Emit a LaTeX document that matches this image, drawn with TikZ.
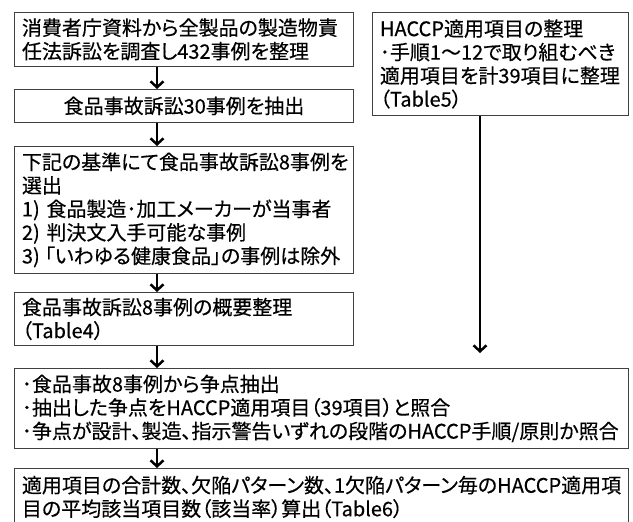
\documentclass[tikz,border=0pt]{standalone}
\usepackage{fontspec}
\setmainfont{Noto Sans CJK JP}[RawFeature=+palt, FakeBold=0.4]
\usetikzlibrary{arrows.meta,calc}
\begin{document}
\begin{tikzpicture}[x=1pt,y=-1pt,
  box/.style={draw=black!75, line width=0.9pt, anchor=north west, inner xsep=7.5pt, inner ysep=0pt,
    align=left, font=\fontsize{20}{23.5}\selectfont, text=black},
  arr/.style={line width=2.5pt, -{Straight Barb[length=6pt,width=13pt,line width=2.5pt]}}]
\useasboundingbox (0,0) rectangle (633,522);
\clip (0,0) rectangle (633,522);
\node[box, text width=324pt, minimum height=54pt] (b1) at (14,12)
  {消費者庁資料から全製品の製造物責\\任法訴訟を調査し432事例を整理};
\node[box, text width=324pt, minimum height=33pt, align=center] (b2) at (14,89)
  {食品事故訴訟30事例を抽出};
\node[box, text width=324pt, minimum height=127pt] (b3) at (14,146)
  {下記の基準にて食品事故訴訟8事例を\\選出\\1)\ 食品製造･加工メーカーが当事者\\2)\ 判決文入手可能な事例\\3)\kern5pt「いわゆる健康食品」の事例は除外};
\node[box, text width=324pt, minimum height=53pt] (b4) at (14,292)
  {食品事故訴訟8事例の概要整理\\（Table4）};
\node[box, text width=241pt, minimum height=103pt] (r) at (372,12)
  {HACCP適用項目の整理\\･手順1〜12で取り組むべき\\適用項目を計39項目に整理\\（Table5）};
\node[box, text width=599pt, minimum height=80pt] (b5) at (14,368)
  {･食品事故8事例から争点抽出\\･抽出した争点をHACCP適用項目（39項目）と照合\\･争点が設計、製造、指示警告いずれの段階のHACCP手順/原則か照合};
\node[box, text width=599pt, minimum height=57pt] (b6) at (14,468)
  {適用項目の合計数、欠陥パターン数、1欠陥パターン毎のHACCP適用項\\目の平均該当項目数（該当率）算出（Table6）};
\coordinate (ax) at (157,0);
\coordinate (rx) at (480,0);
\coordinate (rend) at (480,353);
\draw[arr] (b1.south -| ax) -- (b2.north -| ax);
\draw[arr] (b2.south -| ax) -- (b3.north -| ax);
\draw[arr] (b3.south -| ax) -- (b4.north -| ax);
\draw[arr] (b4.south -| ax) -- (b5.north -| ax);
\draw[arr] (b5.south -| ax) -- (b6.north -| ax);
\draw[arr] (r.south -| rx) -- (rend);
\end{tikzpicture}
\end{document}
